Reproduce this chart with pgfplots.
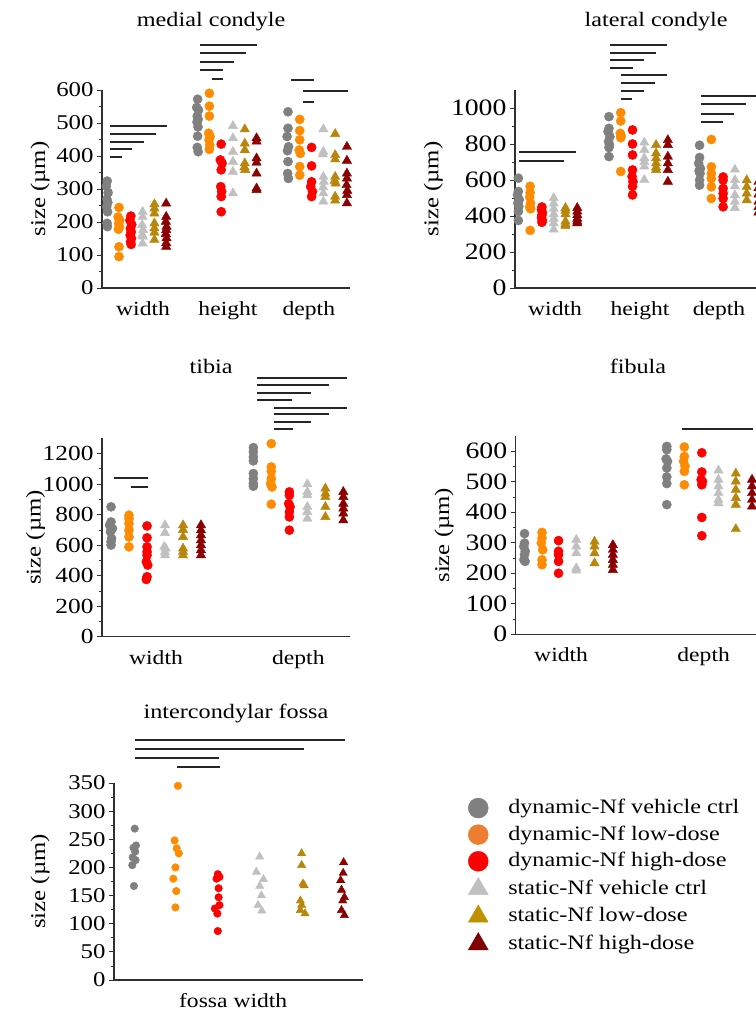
\documentclass[border=0pt]{standalone}
\usepackage{fontspec}
\setmainfont{Liberation Serif}[FakeStretch=1.18]
\usepackage{pgfplots}
\pgfplotsset{compat=1.18}

\definecolor{cdynctrl}{HTML}{808080}
\definecolor{cdynlow}{HTML}{FF8C00}
\definecolor{cdynhigh}{HTML}{FF0000}
\definecolor{cstactrl}{HTML}{C0C0C0}
\definecolor{cstalow}{HTML}{B8860B}
\definecolor{cstahigh}{HTML}{8B0000}
\definecolor{lgdynlow}{HTML}{ED7D31}
\definecolor{lgstalow}{HTML}{BF9000}
\definecolor{lgstahigh}{HTML}{7F0000}
\definecolor{axisgray}{HTML}{303030}

\newcommand{\fs}[1]{\fontsize{#1}{#1}\selectfont}

\pgfplotsset{
  panel/.style={
    scale only axis, width=248pt, height=198pt,
    anchor=south west,
    axis lines=left,
    axis line style={-, line width=1.4pt, draw=axisgray},
    tick align=outside,
    major tick length=5pt, minor tick length=3pt,
    ytick style={draw=axisgray, line width=0.9pt},
    minor y tick style={draw=axisgray, line width=0.7pt},
    xtick style={draw=none},
    minor y tick num=1,
    ymin=0,
    clip=false,
    xticklabel style={font=\fs{20}, yshift=-5pt},
    ylabel={size (µm)},
    ylabel style={font=\fs{21}, anchor=center},
    /pgf/number format/assume math mode=true,
    /pgf/number format/1000 sep={},
  },
  s1/.style={only marks, mark=*, mark size=4.6pt, color=cdynctrl, forget plot},
  s2/.style={only marks, mark=*, mark size=4.6pt, color=cdynlow, forget plot},
  s3/.style={only marks, mark=*, mark size=4.6pt, color=cdynhigh, forget plot},
  s4/.style={only marks, mark=triangle*, mark size=5.4pt, color=cstactrl, forget plot},
  s5/.style={only marks, mark=triangle*, mark size=5.4pt, color=cstalow, forget plot},
  s6/.style={only marks, mark=triangle*, mark size=5.4pt, color=cstahigh, forget plot},
}
\tikzset{sig/.style={line width=2pt, draw=black!85}}

\begin{document}
\begin{tikzpicture}

% medial condyle
\begin{axis}[panel, at={(102pt,723pt)},
  xmin=0.616, xmax=3.36, ymax=600,
  xtick={1.07,2.01,2.905}, xticklabels={width,height,depth},
  ytick={0,100,...,600}, yticklabel style={font=\fs{21}},
  ylabel style={at={(axis description cs:-0.25,0.5)}}]
\addplot[s1] coordinates {(0.674,324)(0.664,309)(0.684,289)(0.670,269)(0.680,259)(0.668,246)(0.678,231)(0.672,196)(0.676,186)
  (1.674,572)(1.664,547)(1.684,539)(1.670,521)(1.680,511)(1.668,503)(1.678,488)(1.674,460)(1.670,426)(1.680,413)
  (2.674,534)(2.674,484)(2.664,459)(2.680,428)(2.668,416)(2.674,383)(2.670,347)(2.678,332)};
\addplot[s2] coordinates {(0.804,244)(0.794,215)(0.812,205)(0.800,195)(0.808,185)(0.798,178)(0.804,125)(0.804,95)
  (1.804,590)(1.804,551)(1.804,521)(1.796,469)(1.812,459)(1.800,449)(1.808,433)(1.804,420)
  (2.804,511)(2.804,477)(2.804,449)(2.798,418)(2.810,408)(2.804,368)(2.804,342)};
\addplot[s3] coordinates {(0.935,218)(0.925,205)(0.945,192)(0.930,180)(0.940,170)(0.928,160)(0.942,150)(0.932,140)(0.938,132)
  (1.935,436)(1.925,388)(1.945,378)(1.935,358)(1.930,307)(1.940,292)(1.935,277)(1.935,231)
  (2.935,426)(2.935,370)(2.935,322)(2.925,307)(2.945,292)(2.935,277)};
\addplot[s4] coordinates {(1.065,231)(1.065,216)(1.060,191)(1.070,176)(1.062,161)(1.068,156)(1.065,135)
  (2.065,491)(2.065,454)(2.065,413)(2.065,383)(2.065,352)(2.065,287)
  (3.065,481)(3.065,413)(3.060,405)(3.065,337)(3.070,322)(3.062,305)(3.065,287)(3.065,262)};
\addplot[s5] coordinates {(1.196,254)(1.196,241)(1.196,226)(1.196,196)(1.196,181)(1.196,168)(1.196,146)
  (2.196,481)(2.196,438)(2.196,418)(2.196,378)(2.192,366)(2.200,358)
  (3.196,467)(3.196,403)(3.196,390)(3.196,337)(3.190,325)(3.200,317)(3.196,277)(3.196,265)};
\addplot[s6] coordinates {(1.326,256)(1.326,216)(1.322,201)(1.330,186)(1.326,176)(1.322,164)(1.330,151)(1.326,136)(1.326,125)
  (2.326,454)(2.326,444)(2.326,393)(2.326,380)(2.326,347)(2.326,302)(2.326,297)
  (3.326,428)(3.326,386)(3.326,347)(3.326,332)(3.322,312)(3.330,295)(3.326,282)(3.326,257)};
\draw[sig] (axis cs:0.706,492) -- (axis cs:1.335,492);
\draw[sig] (axis cs:0.706,467) -- (axis cs:1.210,467);
\draw[sig] (axis cs:0.706,442) -- (axis cs:1.081,442);
\draw[sig] (axis cs:0.706,421) -- (axis cs:0.948,421);
\draw[sig] (axis cs:0.706,397) -- (axis cs:0.834,397);
\draw[sig] (axis cs:1.700,737) -- (axis cs:2.331,737);
\draw[sig] (axis cs:1.700,712) -- (axis cs:2.206,712);
\draw[sig] (axis cs:1.700,686) -- (axis cs:2.077,686);
\draw[sig] (axis cs:1.700,660) -- (axis cs:1.952,660);
\draw[sig] (axis cs:1.833,633) -- (axis cs:1.952,633);
\draw[sig] (axis cs:2.708,629) -- (axis cs:2.962,629);
\draw[sig] (axis cs:2.836,597) -- (axis cs:3.334,597);
\draw[sig] (axis cs:2.836,565) -- (axis cs:2.962,565);
\node[font=\fs{20.5}] at (rel axis cs:0.44,1.345) {medial condyle};
\end{axis}

% lateral condyle
\begin{axis}[panel, at={(515pt,723pt)},
  xmin=0.638, xmax=3.375, ymax=1100,
  xtick={1.08,2.018,2.89}, xticklabels={width,height,depth},
  ytick={0,200,...,1000}, yticklabel style={font=\fs{23.5}},
  ylabel style={at={(axis description cs:-0.329,0.5)}}]
\addplot[s1] coordinates {(0.675,610)(0.675,536)(0.665,517)(0.685,490)(0.670,471)(0.680,453)(0.675,425)(0.675,375)
  (1.675,952)(1.675,887)(1.665,869)(1.685,841)(1.670,813)(1.680,795)(1.675,780)(1.675,730)
  (2.675,793)(2.675,725)(2.665,692)(2.685,664)(2.670,650)(2.680,636)(2.675,599)(2.675,571)};
\addplot[s2] coordinates {(0.805,565)(0.805,530)(0.800,505)(0.810,470)(0.800,450)(0.810,440)(0.805,320)
  (1.805,974)(1.805,928)(1.800,859)(1.810,845)(1.805,835)(1.805,647)
  (2.805,825)(2.805,673)(2.805,636)(2.805,608)(2.805,562)(2.805,497)};
\addplot[s3] coordinates {(0.935,450)(0.930,435)(0.940,420)(0.935,405)(0.930,390)(0.940,375)(0.935,365)
  (1.935,878)(1.935,800)(1.935,739)(1.935,656)(1.930,619)(1.940,591)(1.935,564)(1.935,517)
  (2.935,617)(2.935,599)(2.935,553)(2.935,525)(2.935,497)(2.935,451)};
\addplot[s4] coordinates {(1.065,500)(1.065,470)(1.065,440)(1.065,410)(1.065,385)(1.065,360)(1.065,325)
  (2.065,808)(2.065,767)(2.065,721)(2.065,700)(2.065,675)(2.065,601)
  (3.065,658)(3.065,600)(3.065,565)(3.065,515)(3.065,480)(3.065,445)};
\addplot[s5] coordinates {(1.195,445)(1.195,430)(1.195,410)(1.195,370)(1.195,355)(1.195,345)
  (2.195,795)(2.195,748)(2.195,721)(2.195,693)(2.195,670)(2.195,656)
  (3.195,599)(3.195,562)(3.195,525)(3.195,488)};
\addplot[s6] coordinates {(1.325,445)(1.325,425)(1.325,405)(1.325,385)(1.325,370)(1.325,360)
  (2.325,822)(2.325,795)(2.325,730)(2.325,693)(2.325,656)(2.325,591)
  (3.325,590)(3.325,555)(3.325,520)(3.325,480)(3.325,450)(3.325,420)};
\draw[sig] (axis cs:1.687,1349) -- (axis cs:2.319,1349);
\draw[sig] (axis cs:1.687,1305) -- (axis cs:2.194,1305);
\draw[sig] (axis cs:1.687,1265) -- (axis cs:2.062,1265);
\draw[sig] (axis cs:1.687,1222) -- (axis cs:1.937,1222);
\draw[sig] (axis cs:1.811,1181) -- (axis cs:2.312,1181);
\draw[sig] (axis cs:1.811,1139) -- (axis cs:2.187,1139);
\draw[sig] (axis cs:1.811,1094) -- (axis cs:2.062,1094);
\draw[sig] (axis cs:1.811,1048) -- (axis cs:1.933,1048);
\draw[sig] (axis cs:0.682,756) -- (axis cs:1.308,756);
\draw[sig] (axis cs:0.682,704) -- (axis cs:1.182,704);
\draw[sig] (axis cs:2.691,1067) -- (axis cs:3.342,1067);
\draw[sig] (axis cs:2.691,1021) -- (axis cs:3.184,1021);
\draw[sig] (axis cs:2.691,969) -- (axis cs:3.058,969);
\draw[sig] (axis cs:2.691,921) -- (axis cs:2.930,921);
\node[font=\fs{20.5}] at (rel axis cs:0.569,1.345) {lateral condyle};
\end{axis}

% tibia
\begin{axis}[panel, at={(102pt,374.3pt)}, height=198.4pt,
  xmin=0.6205, xmax=2.363, ymax=1300,
  xtick={1,2}, xticklabels={width,depth},
  ytick={0,200,...,1200}, yticklabel style={font=\fs{21.5}},
  ylabel style={at={(axis description cs:-0.268,0.5)}}]
\addplot[s1] coordinates {(0.684,851)(0.684,752)(0.674,731)(0.694,709)(0.680,687)(0.688,643)(0.684,622)(0.684,600)
  (1.684,1239)(1.684,1210)(1.684,1178)(1.684,1152)(1.684,1069)(1.684,1036)(1.684,1003)(1.684,986)};
\addplot[s2] coordinates {(0.810,796)(0.810,774)(0.810,742)(0.810,698)(0.810,654)(0.810,589)
  (1.810,1265)(1.810,1112)(1.810,1084)(1.810,1036)(1.805,1003)(1.815,981)(1.810,868)};
\addplot[s3] coordinates {(0.937,726)(0.937,648)(0.937,589)(0.937,556)(0.937,534)(0.932,491)(0.942,469)(0.937,393)(0.932,375)
  (1.937,949)(1.937,927)(1.932,872)(1.942,851)(1.937,818)(1.937,785)(1.937,698)};
\addplot[s4] coordinates {(1.063,731)(1.063,680)(1.058,589)(1.068,578)(1.063,556)(1.063,534)
  (2.063,999)(2.063,949)(2.063,927)(2.063,851)(2.063,818)(2.063,774)};
\addplot[s5] coordinates {(1.190,731)(1.190,700)(1.190,654)(1.190,578)(1.190,556)(1.190,534)
  (2.190,971)(2.190,938)(2.190,916)(2.190,851)(2.190,785)};
\addplot[s6] coordinates {(1.316,731)(1.316,698)(1.316,665)(1.316,632)(1.316,600)(1.316,567)(1.316,534)
  (2.316,949)(2.316,916)(2.316,872)(2.316,840)(2.316,807)(2.316,763)};
\draw[sig] (axis cs:1.708,1698) -- (axis cs:2.344,1698);
\draw[sig] (axis cs:1.708,1647) -- (axis cs:2.216,1647);
\draw[sig] (axis cs:1.708,1597) -- (axis cs:2.087,1597);
\draw[sig] (axis cs:1.708,1553) -- (axis cs:1.958,1553);
\draw[sig] (axis cs:1.831,1501) -- (axis cs:2.344,1501);
\draw[sig] (axis cs:1.831,1457) -- (axis cs:2.216,1457);
\draw[sig] (axis cs:1.831,1407) -- (axis cs:2.087,1407);
\draw[sig] (axis cs:1.831,1359) -- (axis cs:1.965,1359);
\draw[sig] (axis cs:0.705,1037) -- (axis cs:0.946,1037);
\draw[sig] (axis cs:0.822,978) -- (axis cs:0.946,978);
\node[font=\fs{20.5}] at (rel axis cs:0.44,1.36) {tibia};
\end{axis}

% fibula
\begin{axis}[panel, at={(515.7pt,376.7pt)}, height=198.3pt,
  xmin=0.632, xmax=2.375, ymax=650,
  xtick={0.951,1.953}, xticklabels={width,depth},
  ytick={0,100,...,600}, yticklabel style={font=\fs{23.5}},
  ylabel style={at={(axis description cs:-0.289,0.5)}}]
\addplot[s1] coordinates {(0.694,330)(0.694,299)(0.689,288)(0.699,272)(0.694,261)(0.690,244)(0.698,239)
  (1.694,616)(1.694,605)(1.689,575)(1.699,567)(1.694,545)(1.694,516)(1.694,494)(1.694,425)};
\addplot[s2] coordinates {(0.817,334)(0.817,315)(0.812,299)(0.822,277)(0.817,244)(0.817,228)
  (1.817,614)(1.817,583)(1.812,567)(1.822,551)(1.817,534)(1.817,490)};
\addplot[s3] coordinates {(0.933,307)(0.933,272)(0.933,261)(0.933,239)(0.933,200)
  (1.940,595)(1.940,532)(1.935,507)(1.945,501)(1.940,490)(1.940,383)(1.940,323)};
\addplot[s4] coordinates {(1.058,310)(1.058,288)(1.058,266)(1.058,217)(1.058,209)
  (2.057,537)(2.057,507)(2.057,485)(2.057,463)(2.057,441)(2.057,430)};
\addplot[s5] coordinates {(1.186,304)(1.186,288)(1.186,266)(1.186,233)
  (2.179,527)(2.179,501)(2.179,474)(2.179,447)(2.179,425)(2.179,345)};
\addplot[s6] coordinates {(1.315,293)(1.315,277)(1.315,261)(1.315,244)(1.315,228)(1.315,211)
  (2.293,507)(2.293,485)(2.293,463)(2.293,441)(2.293,419)};
\draw[sig] (axis cs:1.799,673) -- (axis cs:2.300,673);
\node[font=\fs{20.5}] at (rel axis cs:0.493,1.35) {fibula};
\end{axis}

% intercondylar fossa
\begin{axis}[panel, at={(114pt,31pt)}, width=249pt, height=197pt,
  xmin=0.525, xmax=6.463, ymax=350,
  xtick={3.368}, xticklabels={fossa width},
  ytick={0,50,...,350}, yticklabel style={font=\fs{21}},
  ylabel style={at={(axis description cs:-0.297,0.5)}},
  s1/.append style={mark size=3.8pt}, s2/.append style={mark size=3.8pt},
  s3/.append style={mark size=3.8pt}, s4/.append style={mark size=4.8pt},
  s5/.append style={mark size=4.8pt}, s6/.append style={mark size=4.8pt},
  legend style={at={(rel axis cs:1.422,0.927)}, anchor=north west,
    draw=none, fill=none, inner sep=0pt, column sep=20pt, row sep=5.6pt,
    font=\fs{20.5}, cells={anchor=west},
    nodes={inner sep=0pt, text height=16pt, text depth=5pt}},
  legend image code/.code={\draw[#1] plot coordinates {(0pt,0pt)};}]
\addplot[s1] coordinates {(1.02,269)(1.05,239)(0.99,235)(1.03,228)(0.97,218)(1.04,213)(0.96,204)(1.00,167)};
\addplot[s2] coordinates {(2.05,345)(1.97,248)(2.02,234)(2.07,225)(1.99,200)(1.94,180)(2.01,158)(1.99,129)};
\addplot[s3] coordinates {(3.00,188)(3.04,183)(2.97,180)(3.02,163)(3.02,147)(3.04,133)(2.93,127)(2.99,118)(3.00,87)};
\addplot[s4] coordinates {(4.00,219)(3.92,192)(4.09,179)(4.00,167)(4.04,150)(3.96,133)(4.05,123)};
\addplot[s5] coordinates {(5.00,225)(5.00,204)(5.03,171)(5.06,168)(4.97,141)(5.00,133)(4.97,124)(5.08,118)};
\addplot[s6] coordinates {(6.00,209)(5.99,190)(5.93,177)(5.95,160)(6.02,147)(5.98,141)(5.95,124)(6.02,115)};
\draw[sig] (axis cs:1.024,426) -- (axis cs:6.030,426);
\draw[sig] (axis cs:1.024,410) -- (axis cs:5.055,410);
\draw[sig] (axis cs:1.024,394) -- (axis cs:3.036,394);
\draw[sig] (axis cs:2.031,378) -- (axis cs:3.043,378);
\node[font=\fs{20.5}] at (rel axis cs:0.49,1.355) {intercondylar fossa};
\addlegendimage{only marks, mark=*, mark size=10pt, color=cdynctrl}
\addlegendentry{dynamic-Nf vehicle ctrl}
\addlegendimage{only marks, mark=*, mark size=10pt, color=lgdynlow}
\addlegendentry{dynamic-Nf low-dose}
\addlegendimage{only marks, mark=*, mark size=10pt, color=cdynhigh}
\addlegendentry{dynamic-Nf high-dose}
\addlegendimage{only marks, mark=triangle*, mark size=11.5pt, color=cstactrl}
\addlegendentry{static-Nf vehicle ctrl}
\addlegendimage{only marks, mark=triangle*, mark size=11.5pt, color=lgstalow}
\addlegendentry{static-Nf low-dose}
\addlegendimage{only marks, mark=triangle*, mark size=11.5pt, color=lgstahigh}
\addlegendentry{static-Nf high-dose}
\end{axis}

\pgfresetboundingbox
\useasboundingbox (0,0) rectangle (755pt,1011pt);
\end{tikzpicture}
\end{document}
